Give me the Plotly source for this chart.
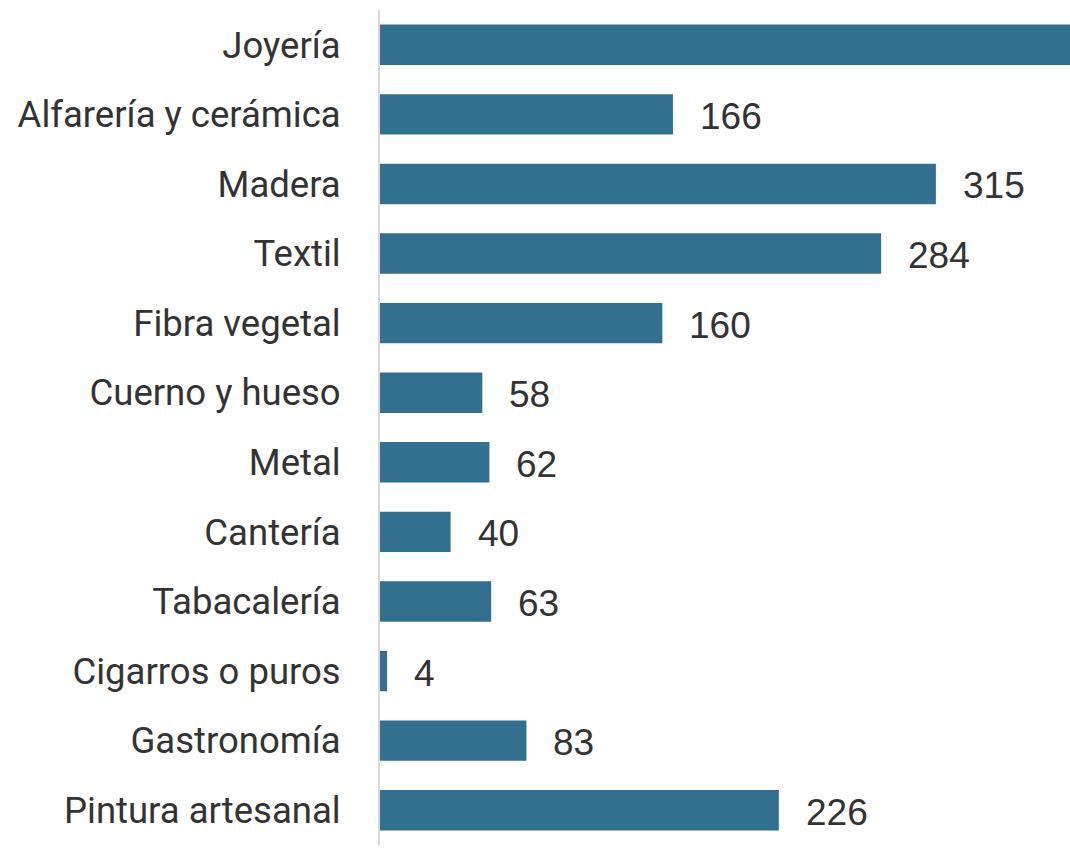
import plotly.graph_objects as go

categories = ["Joyería", "Alfarería y cerámica", "Madera", "Textil", "Fibra vegetal",
              "Cuerno y hueso", "Metal", "Cantería", "Tabacalería", "Cigarros o puros",
              "Gastronomía", "Pintura artesanal"]
values = [420, 166, 315, 284, 160, 58, 62, 40, 63, 4, 83, 226]
labels = ["", "166", "315", "284", "160", "58", "62", "40", "63", "4", "83", "226"]

bar_color = "#336f8e"

fig = go.Figure()
fig.add_trace(go.Bar(
    y=categories, x=values, orientation="h",
    marker=dict(color=bar_color, line=dict(width=0)),
    hoverinfo="skip",
))

for c, v, t in zip(categories, values, labels):
    if t:
        fig.add_annotation(x=v, y=c, text=t, showarrow=False, xanchor="left",
                           yanchor="middle", xshift=25, yshift=-2,
                           font=dict(family="Liberation Sans", size=37, color="#333333"))

fig.update_layout(
    width=1070, height=866,
    margin=dict(l=380, r=0, t=10, b=21),
    paper_bgcolor="white", plot_bgcolor="white",
    bargap=0.42,
    showlegend=False,
    xaxis=dict(range=[0, 391], visible=False, fixedrange=True),
    yaxis=dict(
        autorange="reversed",
        showline=True, linecolor="#d9d9d9", linewidth=2,
        showgrid=False, zeroline=False,
        ticks="", ticklabelstandoff=30,
        tickfont=dict(family="Roboto", size=36.5, color="#333333"),
    ),
)

fig.write_html("out.html", config={"displayModeBar": False},
               post_script="document.body.style.margin='0';document.body.style.overflow='hidden';")
